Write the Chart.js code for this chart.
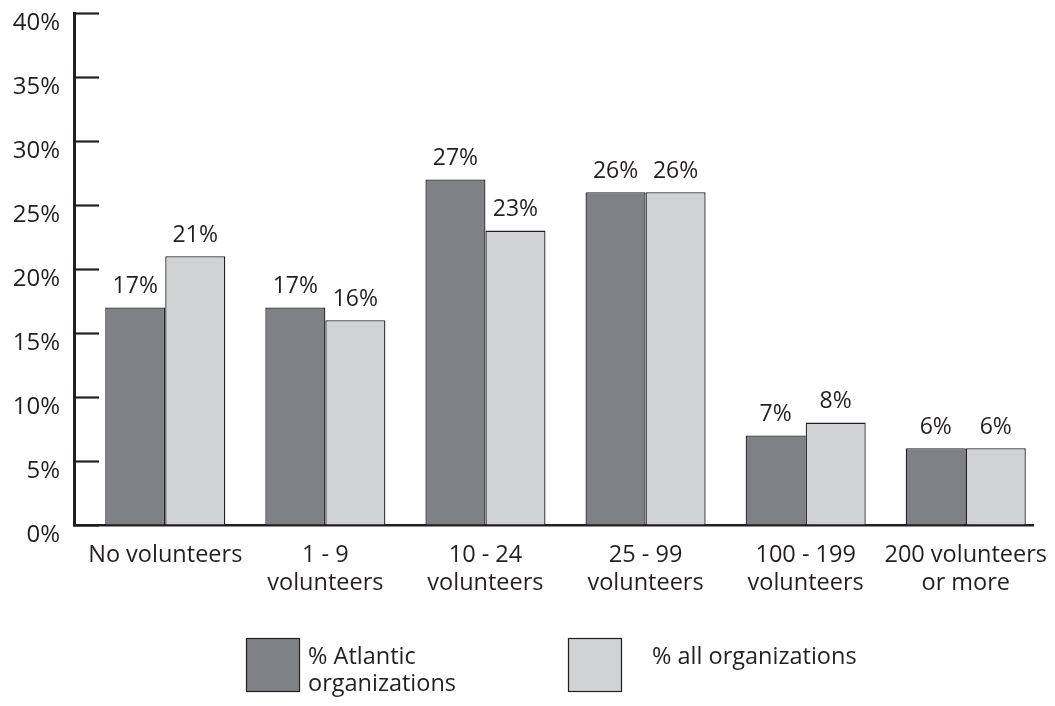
<!DOCTYPE html>
<html>
<head>
<meta charset="utf-8">
<title>Volunteers per organization</title>
<script src="https://cdn.jsdelivr.net/npm/chart.js@4"></script>
<style>
    html, body { margin: 0; padding: 0; background: #ffffff; }
    #wrap { width: 1055px; height: 706px; position: relative; }
</style>
</head>
<body>
<div id="wrap"><canvas id="volunteerChart"></canvas></div>
<script>
// Category labels, one entry per line of text
const categories = [
    ['No volunteers'],
    ['1 - 9', 'volunteers'],
    ['10 - 24', 'volunteers'],
    ['25 - 99', 'volunteers'],
    ['100 - 199', 'volunteers'],
    ['200 volunteers', 'or more']
];

// Share of organizations (%) in each volunteer bracket
const atlanticValues = [17, 17, 27, 26, 7, 6];
const allValues = [21, 16, 23, 26, 8, 6];

const seriesLabels = [['% Atlantic', 'organizations'], ['% all organizations']];
const yTicks = [0, 5, 10, 15, 20, 25, 30, 35, 40];

const INK = '#231f20';
const DARK = '#808184';
const LIGHT = '#d1d2d4';
const FONT = "'Open Sans', sans-serif";

// Value labels above each bar
const barValues = {
    id: 'barValues',
    afterDatasetsDraw(chart) {
        const ctx = chart.ctx;
        ctx.save();
        ctx.fillStyle = INK;
        ctx.font = '23px ' + FONT;
        ctx.textAlign = 'center';
        ctx.textBaseline = 'middle';
        chart.data.datasets.forEach((ds, di) => {
            chart.getDatasetMeta(di).data.forEach((bar, i) => {
                ctx.fillText(ds.data[i].y + '%', bar.x, bar.y - 21);
            });
        });
        ctx.restore();
    }
};

// Legend swatches under the plot
const boxLegend = {
    id: 'boxLegend',
    afterDraw(chart) {
        const ctx = chart.ctx;
        const spots = [{ box: 246, text: 308 }, { box: 568, text: 652 }];
        const top = 638, size = 54;
        ctx.save();
        chart.data.datasets.forEach((ds, di) => {
            const s = spots[di];
            ctx.fillStyle = ds.backgroundColor;
            ctx.fillRect(s.box, top, size, size);
            ctx.strokeStyle = INK;
            ctx.lineWidth = 1.2;
            ctx.strokeRect(s.box + 0.5, top + 0.5, size - 1, size - 1);
            ctx.fillStyle = INK;
            ctx.font = '23.5px ' + FONT;
            ctx.textAlign = 'left';
            ctx.textBaseline = 'middle';
            seriesLabels[di].forEach((line, li) => {
                ctx.fillText(line, s.text, 657 + li * 27);
            });
        });
        ctx.restore();
    }
};

const toPoints = values => values.map((v, i) => ({ x: i, y: v }));

new Chart(document.getElementById('volunteerChart'), {
    type: 'bar',
    data: {
        datasets: [{
            label: seriesLabels[0].join(' '),
            data: toPoints(atlanticValues),
            backgroundColor: DARK,
            borderColor: INK,
            borderWidth: 1.3
        }, {
            label: seriesLabels[1].join(' '),
            data: toPoints(allValues),
            backgroundColor: LIGHT,
            borderColor: INK,
            borderWidth: 1.3
        }]
    },
    options: {
        responsive: true,
        maintainAspectRatio: false,
        animation: false,
        categoryPercentage: 0.75,
        barPercentage: 1.0,
        layout: { padding: { top: 13, right: 22, left: 0, bottom: 0 } },
        plugins: {
            legend: { display: false },
            tooltip: { enabled: false }
        },
        scales: {
            x: {
                type: 'linear',
                offset: false,
                min: -0.57,
                max: 5.42,
                afterBuildTicks(scale) {
                    scale.ticks = categories.map((c, i) => ({ value: i }));
                },
                afterFit(scale) {
                    scale.height = 181;
                    scale.paddingLeft = 0;
                    scale.paddingRight = 0;
                },
                grid: { display: true, drawOnChartArea: false, drawTicks: false },
                border: { display: true, color: INK, width: 2.5 },
                ticks: {
                    autoSkip: false,
                    maxRotation: 0,
                    padding: 16,
                    color: INK,
                    font: { family: FONT, size: 23.5, lineHeight: 1.2 },
                    callback: value => categories[value]
                }
            },
            y: {
                min: 0,
                max: 40,
                afterBuildTicks(scale) {
                    scale.ticks = yTicks.map(v => ({ value: v }));
                },
                afterFit(scale) {
                    scale.width = 74;
                    scale.paddingTop = 0;
                    scale.paddingBottom = 0;
                },
                // ticks drawn inward from the axis line
                grid: {
                    display: true,
                    drawOnChartArea: false,
                    drawTicks: true,
                    tickLength: -25,
                    tickColor: INK,
                    tickWidth: 2.2
                },
                border: { display: true, color: INK, width: 3 },
                ticks: {
                    padding: 39,
                    labelOffset: 10,
                    color: INK,
                    font: { family: FONT, size: 24 },
                    callback: value => value + '%'
                }
            }
        }
    },
    plugins: [barValues, boxLegend]
});
</script>
</body>
</html>
